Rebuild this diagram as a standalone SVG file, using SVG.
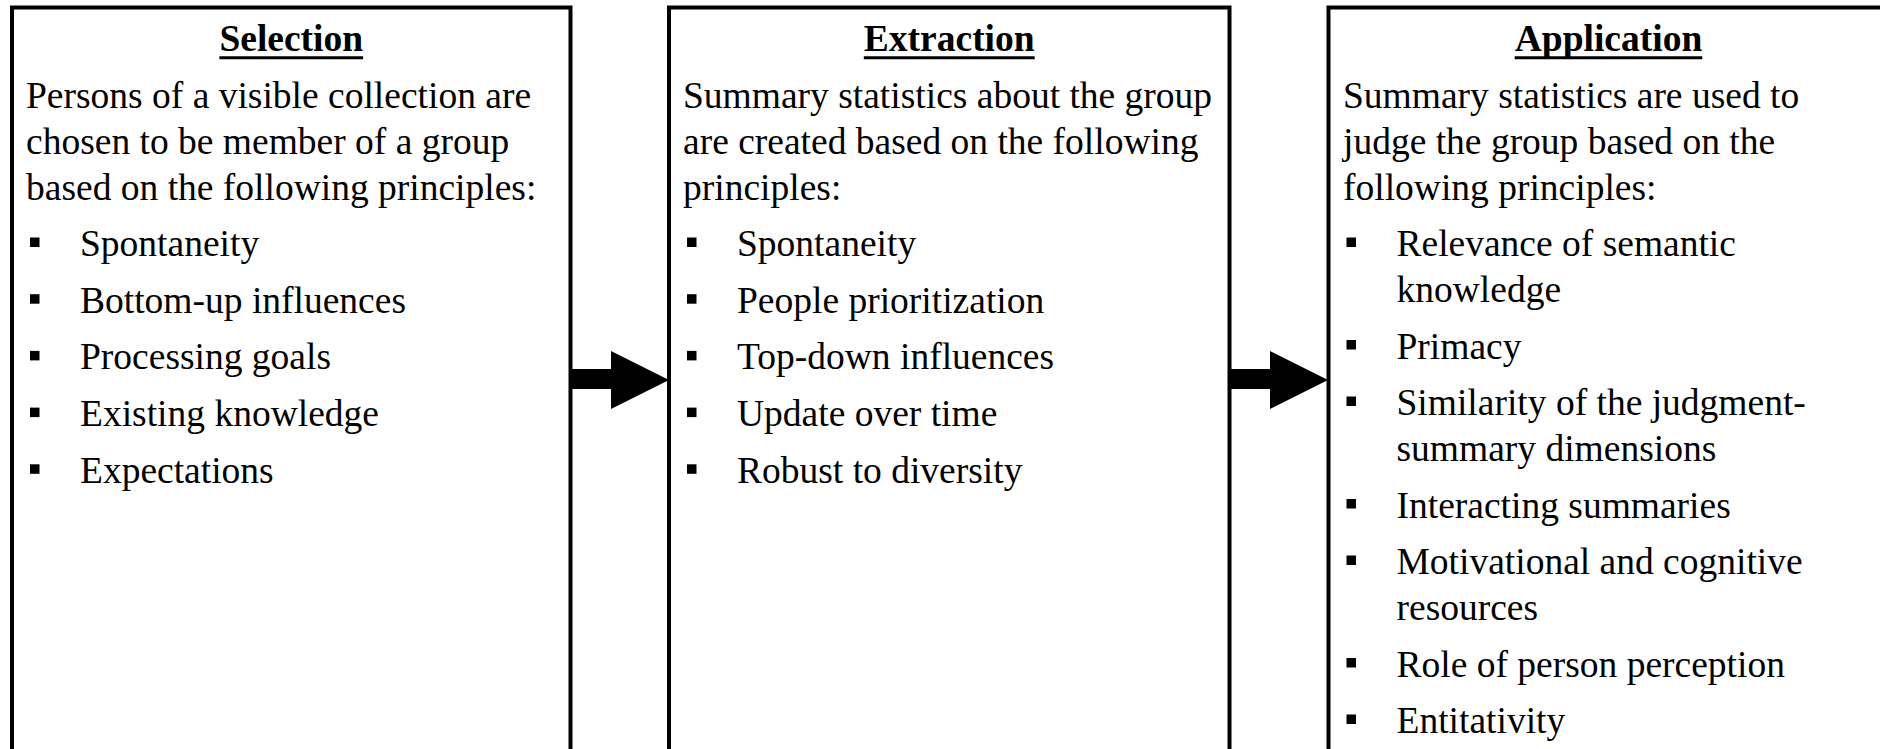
<svg xmlns="http://www.w3.org/2000/svg" width="1880" height="749" viewBox="0 0 1880 749">
  <style>
    .box { fill: #ffffff; stroke: #000000; stroke-width: 4; }
    .title { font-family: "Liberation Serif", "Times New Roman", serif; font-size: 37.5px; font-weight: bold; text-anchor: middle; fill: #000; }
    .ul { stroke: #000; stroke-width: 3; }
    .txt { font-family: "Liberation Serif", "Times New Roman", serif; font-size: 37.5px; fill: #000; }
    .blt { fill: #000; }
    .arrow { fill: #000; }
  </style>
  <rect width="1880" height="749" fill="#ffffff"/>

  <!-- Stage 1 -->
  <g id="selection">
    <rect class="box" x="12" y="7.5" width="558.5" height="760"/>
    <text class="title" x="291.25" y="51">Selection</text>
    <line class="ul" x1="219.4" y1="57.7" x2="363.1" y2="57.7"/>
    <text class="txt" x="26" y="108">Persons of a visible collection are</text>
    <text class="txt" x="26" y="154">chosen to be member of a group</text>
    <text class="txt" x="26" y="200">based on the following principles:</text>
    <rect class="blt" x="30" y="237.5" width="9.5" height="9.5"/>
    <text class="txt" x="80" y="256">Spontaneity</text>
    <rect class="blt" x="30" y="294.2" width="9.5" height="9.5"/>
    <text class="txt" x="80" y="312.7">Bottom-up influences</text>
    <rect class="blt" x="30" y="350.9" width="9.5" height="9.5"/>
    <text class="txt" x="80" y="369.4">Processing goals</text>
    <rect class="blt" x="30" y="407.6" width="9.5" height="9.5"/>
    <text class="txt" x="80" y="426.1">Existing knowledge</text>
    <rect class="blt" x="30" y="464.3" width="9.5" height="9.5"/>
    <text class="txt" x="80" y="482.8">Expectations</text>
  </g>

  <!-- Stage 2 -->
  <g id="extraction">
    <rect class="box" x="669" y="7.5" width="560.5" height="760"/>
    <text class="title" x="949.25" y="51">Extraction</text>
    <line class="ul" x1="863.8" y1="57.7" x2="1034.7" y2="57.7"/>
    <text class="txt" x="683" y="108">Summary statistics about the group</text>
    <text class="txt" x="683" y="154">are created based on the following</text>
    <text class="txt" x="683" y="200">principles:</text>
    <rect class="blt" x="687" y="237.5" width="9.5" height="9.5"/>
    <text class="txt" x="737" y="256">Spontaneity</text>
    <rect class="blt" x="687" y="294.2" width="9.5" height="9.5"/>
    <text class="txt" x="737" y="312.7">People prioritization</text>
    <rect class="blt" x="687" y="350.9" width="9.5" height="9.5"/>
    <text class="txt" x="737" y="369.4">Top-down influences</text>
    <rect class="blt" x="687" y="407.6" width="9.5" height="9.5"/>
    <text class="txt" x="737" y="426.1">Update over time</text>
    <rect class="blt" x="687" y="464.3" width="9.5" height="9.5"/>
    <text class="txt" x="737" y="482.8">Robust to diversity</text>
  </g>

  <!-- Stage 3 -->
  <g id="application">
    <rect class="box" x="1328.5" y="7.5" width="560" height="760"/>
    <text class="title" x="1608.5" y="51">Application</text>
    <line class="ul" x1="1514.7" y1="57.7" x2="1702.3" y2="57.7"/>
    <text class="txt" x="1343" y="108">Summary statistics are used to</text>
    <text class="txt" x="1343" y="154">judge the group based on the</text>
    <text class="txt" x="1343" y="200">following principles:</text>
    <rect class="blt" x="1346.5" y="237.5" width="9.5" height="9.5"/>
    <text class="txt" x="1396.5" y="256">Relevance of semantic</text>
    <text class="txt" x="1396.5" y="302">knowledge</text>
    <rect class="blt" x="1346.5" y="340" width="9.5" height="9.5"/>
    <text class="txt" x="1396.5" y="358.5">Primacy</text>
    <rect class="blt" x="1346.5" y="396.5" width="9.5" height="9.5"/>
    <text class="txt" x="1396.5" y="415">Similarity of the judgment-</text>
    <text class="txt" x="1396.5" y="461">summary dimensions</text>
    <rect class="blt" x="1346.5" y="499" width="9.5" height="9.5"/>
    <text class="txt" x="1396.5" y="517.5">Interacting summaries</text>
    <rect class="blt" x="1346.5" y="555.5" width="9.5" height="9.5"/>
    <text class="txt" x="1396.5" y="574">Motivational and cognitive</text>
    <text class="txt" x="1396.5" y="620">resources</text>
    <rect class="blt" x="1346.5" y="658" width="9.5" height="9.5"/>
    <text class="txt" x="1396.5" y="676.5">Role of person perception</text>
    <rect class="blt" x="1346.5" y="714.5" width="9.5" height="9.5"/>
    <text class="txt" x="1396.5" y="733">Entitativity</text>
  </g>

  <!-- Block arrows between stages -->
  <g id="connectors">
    <polygon class="arrow" points="572,369 611,369 611,351 669,380 611,409 611,389 572,389"/>
    <polygon class="arrow" points="1231,369 1270,369 1270,351 1328,380 1270,409 1270,389 1231,389"/>
  </g>
</svg>
